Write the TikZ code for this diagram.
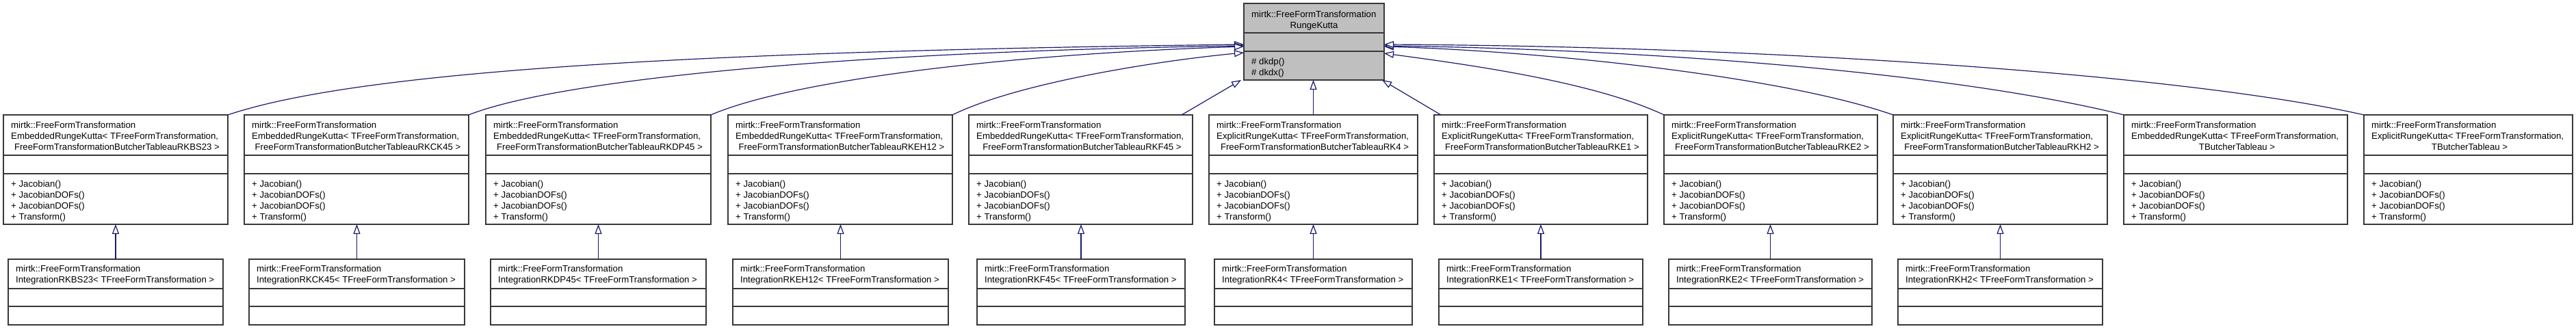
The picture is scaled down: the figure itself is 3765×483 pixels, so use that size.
\documentclass[tikz,border=0pt]{standalone}
\usepackage{fontspec}
\setmainfont{Liberation Sans}
\usetikzlibrary{arrows.meta,fit}

\definecolor{edgeblue}{HTML}{191970}
\definecolor{basegray}{HTML}{BFBFBF}

% scheme class: name, left, right, second line, last line
\newcommand{\schemeclass}[5]{%
  \node[cls,fit={(#2,168) (#3,328)}] (#1) {};
  \draw[cls] (#2,227) -- (#3,227) (#2,254) -- (#3,254);
  \node[txt,anchor=base west] (#1-n1) at (#2+11,187) {mirtk::FreeFormTransformation};
  \node[txt,anchor=base west] (#1-n2) at (#2+11,203) {#4};
  \node[txt,anchor=base] (#1-n3) at ({(#2+#3)/2+2},219) {#5};
  \node[txt,anchor=base west] (#1-m1) at (#2+11,273) {+ Jacobian()};
  \node[txt,anchor=base west] (#1-m2) at (#2+11,289) {+ JacobianDOFs()};
  \node[txt,anchor=base west] (#1-m3) at (#2+11,305) {+ JacobianDOFs()};
  \node[txt,anchor=base west] (#1-m4) at (#2+11,321) {+ Transform()};
}
% integration class: name, left, right, method
\newcommand{\integclass}[4]{%
  \node[cls,fit={(#2,379) (#3,475)}] (#1) {};
  \draw[cls] (#2,422) -- (#3,422) (#2,448) -- (#3,448);
  \node[txt,anchor=base west] (#1-n1) at (#2+11,397) {mirtk::FreeFormTransformation};
  \node[txt,anchor=base west] (#1-n2) at (#2+11,413) {Integration#4< TFreeFormTransformation >};
}

\begin{document}
\begin{tikzpicture}[x=1pt,y=-1pt,
    cls/.style={draw=black!78,line width=1.4pt,inner sep=0pt,outer sep=0pt},
    txt/.style={inner sep=0pt,font=\fontsize{13.2}{16}\selectfont},
    inherit/.style={draw=edgeblue,line width=1.2pt,-{Triangle[length=14pt,width=10pt,fill=white]}}]
    \useasboundingbox (0,0) rectangle (3765,483);

    % base class
    \node[cls,fill=basegray,fit={(1818,5) (2023,117)}] (rk) {};
    \draw[cls] (1818,48) -- (2023,48) (1818,75) -- (2023,75);
    \node[txt,anchor=base west] (rk-n1) at (1829,25) {mirtk::FreeFormTransformation};
    \node[txt,anchor=base] (rk-n2) at (1920.5,41) {RungeKutta};
    \node[txt,anchor=base west] (rk-m1) at (1829,94) {\# dkdp()};
    \node[txt,anchor=base west] (rk-m2) at (1829,110) {\# dkdx()};

    % butcher tableau classes
    \schemeclass{rkbs23}{5}{333}{EmbeddedRungeKutta< TFreeFormTransformation,}{FreeFormTransformationButcherTableauRKBS23 >}
    \schemeclass{rkck45}{357}{685}{EmbeddedRungeKutta< TFreeFormTransformation,}{FreeFormTransformationButcherTableauRKCK45 >}
    \schemeclass{rkdp45}{710}{1039}{EmbeddedRungeKutta< TFreeFormTransformation,}{FreeFormTransformationButcherTableauRKDP45 >}
    \schemeclass{rkeh12}{1064}{1392}{EmbeddedRungeKutta< TFreeFormTransformation,}{FreeFormTransformationButcherTableauRKEH12 >}
    \schemeclass{rkf45}{1416}{1743}{EmbeddedRungeKutta< TFreeFormTransformation,}{FreeFormTransformationButcherTableauRKF45 >}
    \schemeclass{rk4}{1767}{2072}{ExplicitRungeKutta< TFreeFormTransformation,}{FreeFormTransformationButcherTableauRK4 >}
    \schemeclass{rke1}{2096}{2408}{ExplicitRungeKutta< TFreeFormTransformation,}{FreeFormTransformationButcherTableauRKE1 >}
    \schemeclass{rke2}{2432}{2744}{ExplicitRungeKutta< TFreeFormTransformation,}{FreeFormTransformationButcherTableauRKE2 >}
    \schemeclass{rkh2}{2767}{3080}{ExplicitRungeKutta< TFreeFormTransformation,}{FreeFormTransformationButcherTableauRKH2 >}
    \schemeclass{embrk}{3104}{3431}{EmbeddedRungeKutta< TFreeFormTransformation,}{TButcherTableau >}
    \schemeclass{exprk}{3455}{3760}{ExplicitRungeKutta< TFreeFormTransformation,}{TButcherTableau >}

    % integration classes
    \integclass{intrkbs23}{12}{326}{RKBS23}
    \integclass{intrkck45}{364}{679}{RKCK45}
    \integclass{intrkdp45}{717}{1032}{RKDP45}
    \integclass{intrkeh12}{1071}{1386}{RKEH12}
    \integclass{intrkf45}{1428}{1732}{RKF45}
    \integclass{intrk4}{1775}{2064}{RK4}
    \integclass{intrke1}{2103}{2401}{RKE1}
    \integclass{intrke2}{2439}{2736}{RKE2}
    \integclass{intrkh2}{2774}{3073}{RKH2}

    % inheritance
    \draw[inherit] (rkbs23.north east) .. controls (520,105) and (1000,75) .. ([yshift=-4pt]rk.west);
    \draw[inherit] (rkck45.north east) .. controls (820,115) and (1250,75) .. ([yshift=-6pt]rk.west);
    \draw[inherit] (rkdp45.north east) .. controls (1150,120) and (1450,80) .. ([yshift=-7pt]rk.west);
    \draw[inherit] (rkeh12.north east) .. controls (1490,120) and (1700,88) .. ([yshift=-16pt]rk.west);
    \draw[inherit] ([xshift=-16pt]rkf45.north east) -- ([xshift=-4pt]rk.south west);
    \draw[inherit] (rk4.north) -- (rk4.north |- rk.south);
    \draw[inherit] ([xshift=10pt]rke1.north west) -- ([xshift=-3pt]rk.south east);
    \draw[inherit] (rke2.north west) .. controls (2330,120) and (2150,95) .. ([yshift=-17pt]rk.east);
    \draw[inherit] (rkh2.north west) .. controls (2600,110) and (2250,75) .. ([yshift=-7pt]rk.east);
    \draw[inherit] (embrk.north west) .. controls (2850,105) and (2400,72) .. ([yshift=-6pt]rk.east);
    \draw[inherit] (exprk.north west) .. controls (3200,110) and (2600,68) .. ([yshift=-4pt]rk.east);

    \draw[inherit] (intrkbs23.north) -- (intrkbs23.north |- rkbs23.south);
    \draw[inherit] (intrkck45.north) -- (intrkck45.north |- rkck45.south);
    \draw[inherit] (intrkdp45.north) -- (intrkdp45.north |- rkdp45.south);
    \draw[inherit] (intrkeh12.north) -- (intrkeh12.north |- rkeh12.south);
    \draw[inherit] (intrkf45.north) -- (intrkf45.north |- rkf45.south);
    \draw[inherit] (intrk4.north) -- (intrk4.north |- rk4.south);
    \draw[inherit] (intrke1.north) -- (intrke1.north |- rke1.south);
    \draw[inherit] (intrke2.north) -- (intrke2.north |- rke2.south);
    \draw[inherit] (intrkh2.north) -- (intrkh2.north |- rkh2.south);
\end{tikzpicture}
\end{document}
